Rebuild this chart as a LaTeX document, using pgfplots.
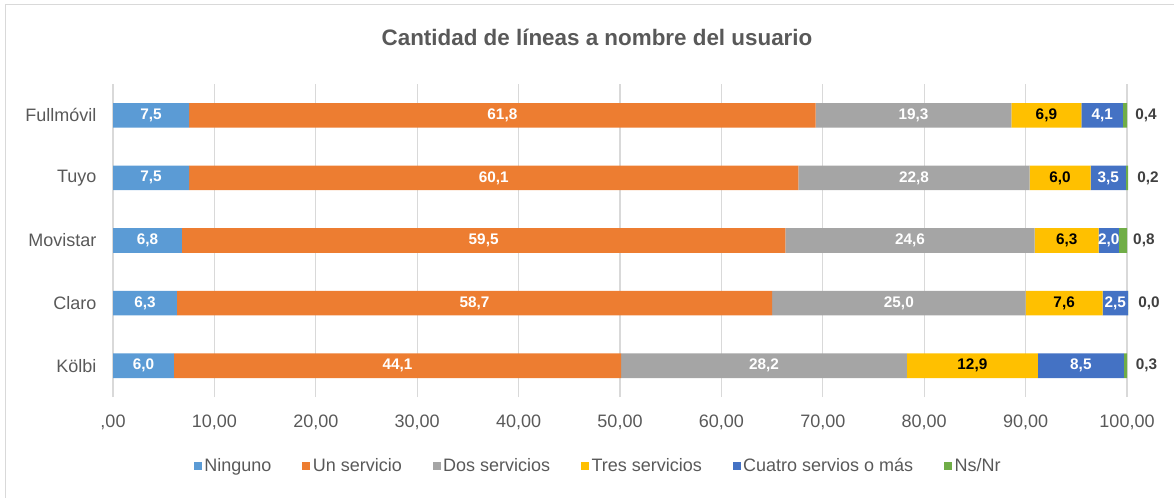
\documentclass[border=0pt]{standalone}
\usepackage{pgfplots}
\pgfplotsset{compat=1.18}
\usepackage{pgfplotstable}
\usepackage{fontspec}
\setmainfont{Liberation Sans}
\definecolor{cNin}{HTML}{5B9BD5}
\definecolor{cUn}{HTML}{ED7D31}
\definecolor{cDos}{HTML}{A5A5A5}
\definecolor{cTres}{HTML}{FFC000}
\definecolor{cCua}{HTML}{4472C4}
\definecolor{cNs}{HTML}{70AD47}
\definecolor{txt}{HTML}{595959}
\definecolor{lbl}{HTML}{404040}
\definecolor{gridc}{HTML}{D9D9D9}
\pgfplotstableread{
cat Ninguno Un Dos Tres Cuatro NsNr
0 6.0 44.1 28.2 12.9 8.5 0.3
1 6.3 58.7 25.0 7.6 2.5 0.001
2 6.8 59.5 24.6 6.3 2.0 0.8
3 7.5 60.1 22.8 6.0 3.5 0.2
4 7.5 61.8 19.3 6.9 4.1 0.4
}\data
\pgfplotsset{centerlbl/.style={
  every node near coord/.append style={text=#1, anchor=center}}}
\begin{document}
\begin{tikzpicture}
\useasboundingbox (0,0) rectangle (880.5pt,372.75pt);
\begin{scope}
\clip (0,0) rectangle (880.5pt,372.75pt);
\draw[gridc, line width=1pt] (4.1pt,-20pt) rectangle (900pt,369.4pt);
\end{scope}
\node[anchor=base, text=txt, font=\fontsize{16.8}{20}\selectfont\bfseries, inner sep=0pt] at (447.75pt,338.25pt) {Cantidad de líneas a nombre del usuario};
\begin{axis}[
  at={(84.75pt,75pt)}, anchor=south west,
  scale only axis, width=760.5pt, height=234.75pt,
  clip=false,
  xbar stacked, bar width=18.45pt,
  xmin=0, xmax=100, ymin=-0.5, ymax=4.5,
  xtick={0,10,...,100},
  xticklabels={{,00},{10,00},{20,00},{30,00},{40,00},{50,00},{60,00},{70,00},{80,00},{90,00},{100,00}},
  ytick={0,1,2,3,4},
  yticklabels={Kölbi,Claro,Movistar,{Tuyo\ },Fullmóvil},
  ticklabel style={font=\fontsize{13.5}{16}\selectfont, text=txt},
  xticklabel style={inner sep=0pt, yshift=-13.5pt},
  yticklabel style={inner sep=0pt, xshift=-12.2pt},
  major tick length=0pt,
  axis line style={draw=none},
  xmajorgrids, grid style={gridc, line width=0.8pt},
  point meta=explicit,
  nodes near coords={\pgfmathprintnumber[fixed, fixed zerofill, precision=1, use comma, assume math mode=true]{\pgfplotspointmeta}},
  nodes near coords style={font=\fontsize{11.5}{13}\selectfont\bfseries, inner sep=0pt},
  legend columns=6,
  legend image code/.code={\fill[#1] (0pt,-3pt) rectangle (6pt,3pt);},
  legend style={at={(0.4788,-0.2204)}, anchor=center, draw=none, fill=none,
    font=\fontsize{13.5}{16}\selectfont, text=txt,
    /tikz/every even column/.append style={column sep=21pt}},
]
\addplot[fill=cNin, draw=none, centerlbl=white]
  table[x=Ninguno, y=cat, meta=Ninguno] {\data};
\addlegendentry{Ninguno}
\addplot[fill=cUn, draw=none, centerlbl=white]
  table[x=Un, y=cat, meta=Un] {\data};
\addlegendentry{Un servicio}
\addplot[fill=cDos, draw=none, centerlbl=white]
  table[x=Dos, y=cat, meta=Dos] {\data};
\addlegendentry{Dos servicios}
\addplot[fill=cTres, draw=none, centerlbl=black]
  table[x=Tres, y=cat, meta=Tres] {\data};
\addlegendentry{Tres servicios}
\addplot[fill=cCua, draw=none, centerlbl=white]
  table[x=Cuatro, y=cat, meta=Cuatro] {\data};
\addlegendentry{Cuatro servios o más}
\addplot[fill=cNs, draw=none,
  every node near coord/.append style={text=lbl, anchor=west, xshift=7.5pt}]
  table[x=NsNr, y=cat, meta=NsNr] {\data};
\addlegendentry{Ns/Nr}
\end{axis}
\end{tikzpicture}
\end{document}
